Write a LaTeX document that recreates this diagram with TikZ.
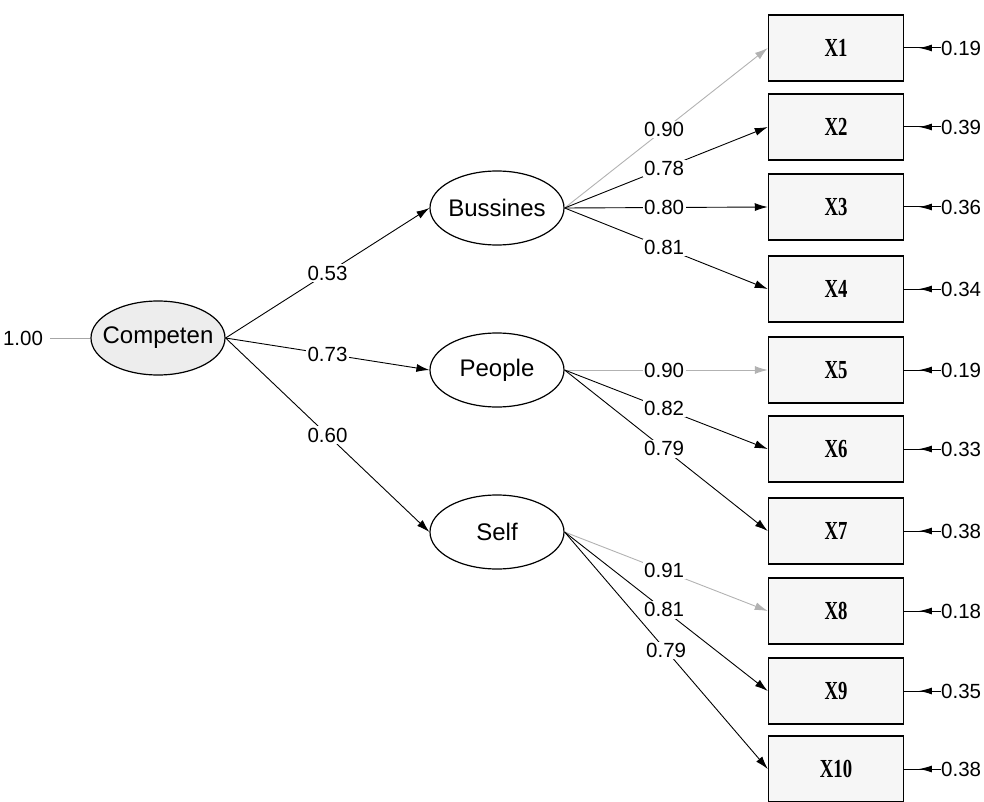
\documentclass[tikz,border=0pt]{standalone}
\usepackage{fontspec}
\setmainfont{Liberation Sans}
\newfontfamily\boxfont{Liberation Serif}
\usetikzlibrary{shapes.geometric,arrows.meta,decorations.markings}
\begin{document}
\begin{tikzpicture}[x=1pt,y=-1pt,
  latent/.style={draw=black,line width=1.2pt,ellipse,minimum width=134pt,minimum height=74pt,inner sep=0pt,fill=white,font=\fontsize{24}{27}\selectfont},
  obs/.style={draw=black,line width=1.5pt,rectangle,minimum width=135pt,minimum height=66pt,inner sep=0pt,fill=gray!7,font=\boxfont\bfseries\fontsize{26}{29}\selectfont},
  coef/.style={fill=white,inner sep=1.5pt,font=\fontsize{20.5}{24}\selectfont},
  errlab/.style={inner sep=0pt,anchor=west,font=\fontsize{20.5}{24}\selectfont},
  path/.style={draw=black,line width=0.9pt,-{Latex[length=13pt,width=8pt]}},
  gpath/.style={draw=gray!60,line width=0.9pt,-{Latex[length=13pt,width=8pt]}},
  errarrow/.style={draw=black,line width=1pt,postaction={decorate},
    decoration={markings,mark=at position 0.6 with {\arrow{Latex[length=13pt,width=7pt]}}}}
]
\useasboundingbox (0,0) rectangle (984,802);

% latent variables
\node[latent,fill=gray!14] (comp) at (158,338) {\makebox[0pt]{Competen}};
\node[latent] (bus) at (497,208) {\makebox[0pt]{Bussines}};
\node[latent] (peo) at (497,370) {\makebox[0pt]{People}};
\node[latent] (self) at (497,532) {\makebox[0pt]{Self}};

\node[coef,fill=none,inner sep=0pt] (one) at (23,338) {1.00};
\draw[gray!70,line width=0.8pt] (one.east) ++(7,0) coordinate (onee) (onee) -- (comp.west);

% observed variables
\foreach \i/\y in {1/48,2/127,3/207,4/289,5/370,6/449,7/531,8/611,9/691,10/769}{
  \node[obs] (x\i) at (836,\y) {\scalebox{0.72}[1]{X\i}};
}

% error terms
\foreach \i/\v in {1/0.19,2/0.39,3/0.36,4/0.34,5/0.19,6/0.33,7/0.38,8/0.18,9/0.35,10/0.38}{
  \node[errlab] (e\i) at (941,0 |- x\i) {\v};
  \draw[errarrow] (e\i.west) -- (x\i.east);
}

% structural paths
\draw[path] (comp.east) -- node[coef] {0.53} (bus.west);
\draw[path] (comp.east) -- node[coef] {0.73} (peo.west);
\draw[path] (comp.east) -- node[coef] {0.60} (self.west);

% loadings
\draw[gpath] (bus.east) -- node[coef,pos=0.49] {0.90} (x1.west);
\draw[path] (bus.east) -- node[coef,pos=0.49] {0.78} (x2.west);
\draw[path] (bus.east) -- node[coef,pos=0.49] {0.80} (x3.west);
\draw[path] (bus.east) -- node[coef,pos=0.49] {0.81} (x4.west);

\draw[gpath] (peo.east) -- node[coef,pos=0.49] {0.90} (x5.west);
\draw[path] (peo.east) -- node[coef,pos=0.49] {0.82} (x6.west);
\draw[path] (peo.east) -- node[coef,pos=0.49] {0.79} (x7.west);

\draw[gpath] (self.east) -- node[coef,pos=0.49] {0.91} (x8.west);
\draw[path] (self.east) -- node[coef,pos=0.49] {0.81} (x9.west);
\draw[path] (self.east) -- node[coef,pos=0.5] {0.79} (x10.west);
\end{tikzpicture}
\end{document}
